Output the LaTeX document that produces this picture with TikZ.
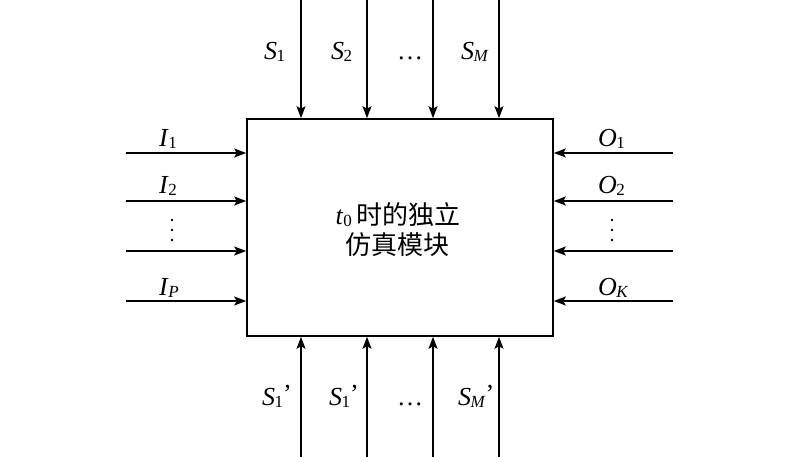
\documentclass[tikz,border=0pt]{standalone}
\usepackage{fontspec}
\setmainfont{Liberation Serif}
\newfontfamily\cjk{Noto Sans CJK SC}
\usetikzlibrary{arrows.meta}
\newcommand\subl[2]{\textit{#1}\kern-0.5pt\raisebox{-0.09em}{\fontsize{17}{17}\selectfont #2}}
\newcommand\prm{\raisebox{0.1em}{\symbol{"27}}}
\tikzset{
  arr/.style={line width=1.6pt,-{Stealth[length=12pt,width=9pt,inset=2.5pt]}},
  lab/.style={font=\fontsize{26}{26}\selectfont,inner sep=0pt,anchor=base west},
  labc/.style={font=\fontsize{26}{26}\selectfont,inner sep=0pt,anchor=base},
  blk/.style={draw,line width=1.6pt,minimum width=306pt,minimum height=217pt,inner sep=0pt},
  ttl/.style={font=\fontsize{26}{26}\selectfont,inner sep=0pt,anchor=base},
  vdot/.style={fill,circle,inner sep=0pt,minimum size=2.8pt}
}
\begin{document}
\begin{tikzpicture}[x=1pt,y=-1pt]
\useasboundingbox (0,0) rectangle (800,457);
\node[blk] (box) at (400,227.5) {};
\node[ttl] (title1) at (398,224)
  {\textit{t}\raisebox{-0.08em}{\fontsize{17}{17}\selectfont 0}\,{\cjk 时的独立}};
\node[ttl] (title2) at (397,254) {\cjk 仿真模块};
% top and bottom
\foreach \i/\x in {1/301,2/367,3/433,4/499}{
  \coordinate (t\i) at (\x,0);
  \draw[arr] (t\i) -- (t\i |- box.north);
  \coordinate (b\i) at (\x,457);
  \draw[arr] (b\i) -- (b\i |- box.south);
}
\node[lab] (s1) at (264,59.5) {\subl{S}{1}};
\node[lab] (s2) at (331,59.5) {\subl{S}{2}};
\node[labc] (sd) at (410,59.5) {…};
\node[lab] (sm) at (461,59.5) {\subl{S}{\textit{M}}};
\node[lab] (q1) at (262,405) {\subl{S}{1}\prm};
\node[lab] (q2) at (329,405) {\subl{S}{1}\prm};
\node[labc] (qd) at (410,405) {…};
\node[lab] (qm) at (458,405) {\subl{S}{\textit{M}}\prm};
% left / right
\foreach \i/\y in {1/153,2/201,3/251,4/301}{
  \coordinate (l\i) at (126,\y);
  \draw[arr] (l\i) -- (l\i -| box.west);
  \coordinate (r\i) at (673,\y);
  \draw[arr] (r\i) -- (r\i -| box.east);
}
\node[lab] (i1) at (159,146.5) {\subl{I}{1}};
\node[lab] (i2) at (159,193.5) {\subl{I}{2}};
\foreach \y [count=\k] in {220,230,240}{
  \node[vdot] (id\k) at (172,\y) {};
  \node[vdot] (od\k) at (612,\y) {};
}
\node[lab] (ip) at (159,295) {\subl{I}{\textit{P}}};
\node[lab] (o1) at (598,146.5) {\subl{O}{1}};
\node[lab] (o2) at (598,193.5) {\subl{O}{2}};
\node[lab] (ok) at (598,295) {\subl{O}{\textit{K}}};
\end{tikzpicture}
\end{document}
